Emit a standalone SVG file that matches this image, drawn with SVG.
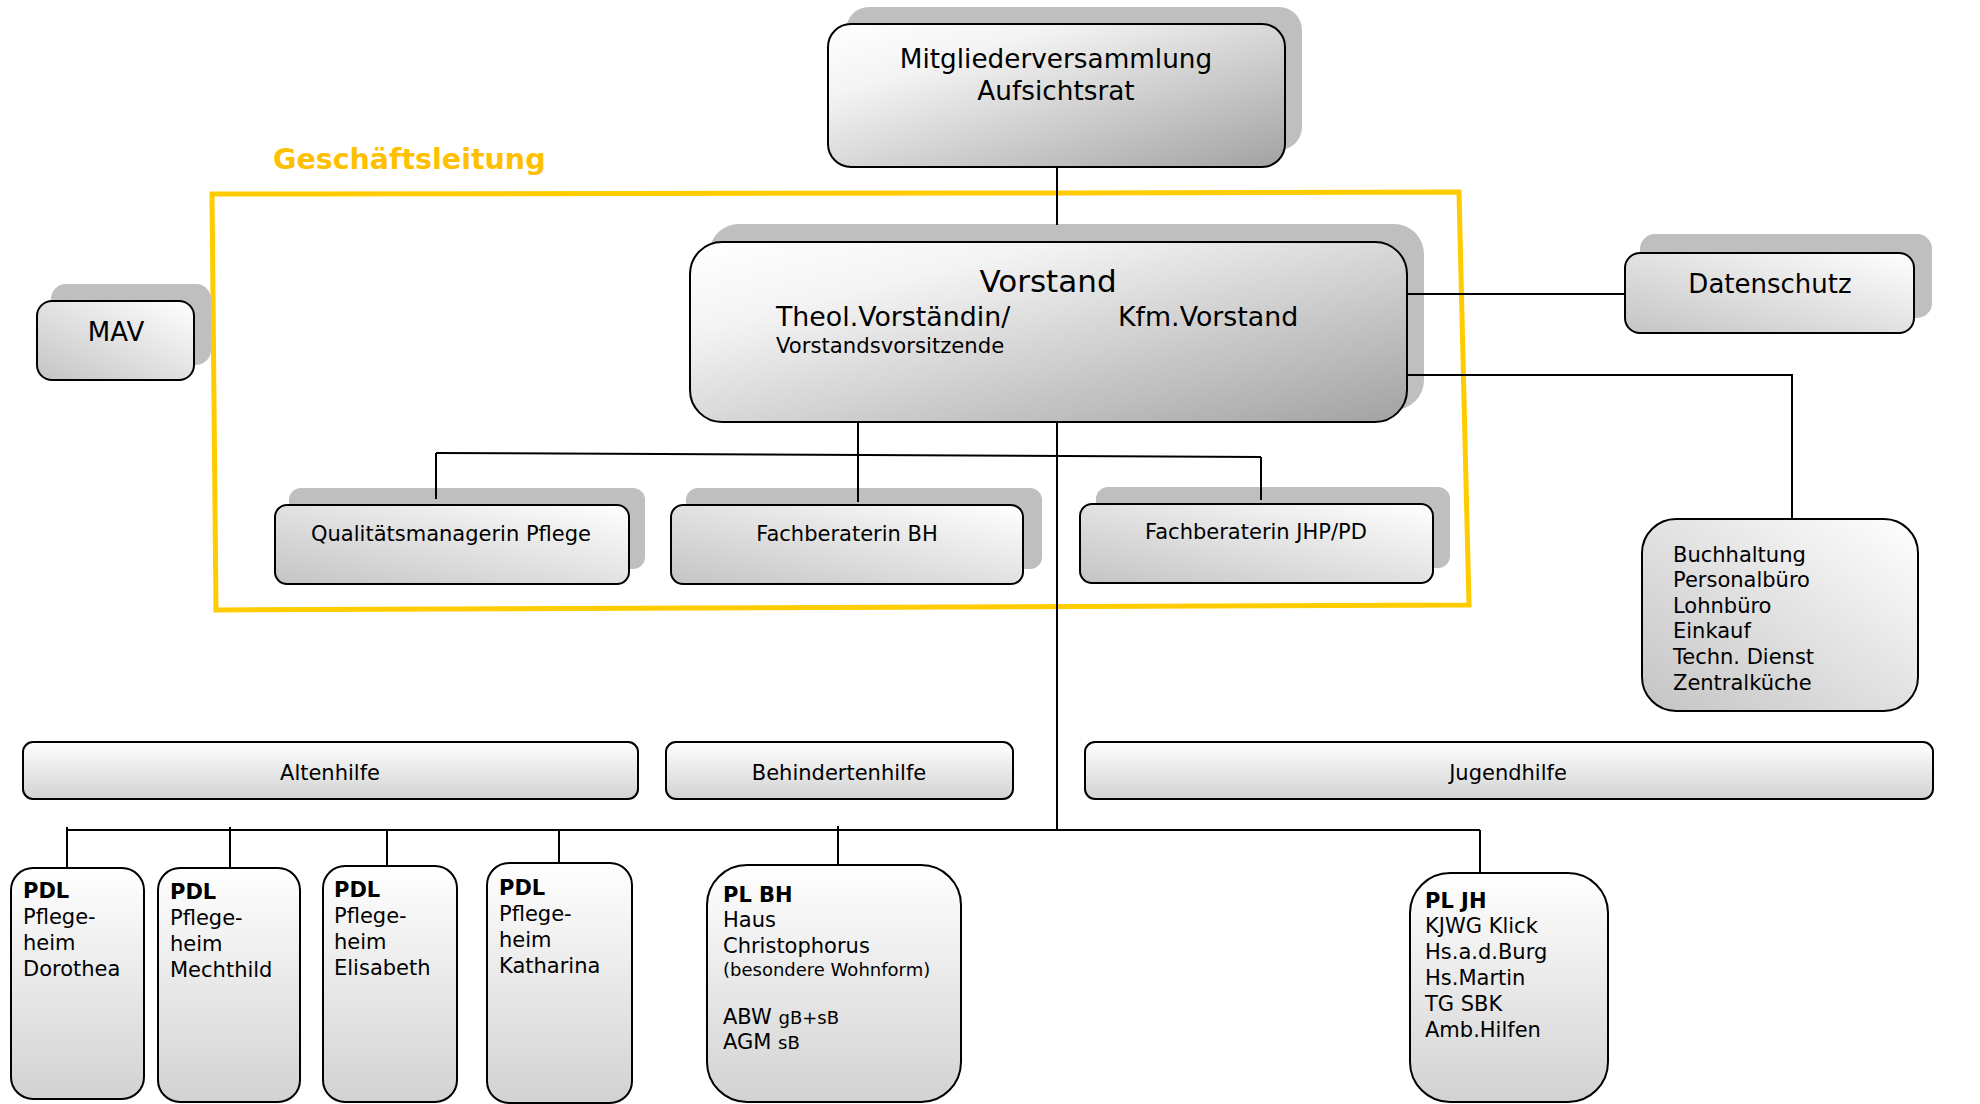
<svg xmlns="http://www.w3.org/2000/svg" width="1980" height="1104" viewBox="0 0 1980 1104">
<defs>
<linearGradient id="gDark" x1="0" y1="0" x2="1" y2="1"><stop offset="0" stop-color="#ffffff"/><stop offset="0.25" stop-color="#f4f4f4"/><stop offset="1" stop-color="#a2a2a2"/></linearGradient>
<linearGradient id="gLight" x1="1" y1="0" x2="0" y2="1"><stop offset="0" stop-color="#ffffff"/><stop offset="1" stop-color="#c4c4c4"/></linearGradient>
<linearGradient id="gVert" x1="0" y1="0" x2="0" y2="1"><stop offset="0" stop-color="#ffffff"/><stop offset="1" stop-color="#d2d2d2"/></linearGradient>
<style>
text{font-family:"DejaVu Sans",Verdana,"Liberation Sans",sans-serif;fill:#000}
.box{stroke:#000;stroke-width:2}
.dark{fill:url(#gDark)}
.light{fill:url(#gLight)}
.vert{fill:url(#gVert)}
.sh{fill:#bfbfbf}
.c{text-anchor:middle}
.b{font-weight:bold}
.f21{font-size:21px}
.f26{font-size:26px}
.f18{font-size:18px}
.ln{stroke:#000;stroke-width:2;fill:none}
</style>
</defs>
<rect width="1980" height="1104" fill="#fff"/>

<!-- Geschäftsleitung frame -->
<g id="geschaeftsleitung">
<polygon points="212,194 1057,193 1459,192 1469,605 216,610" fill="none" stroke="#FFCC00" stroke-width="5"/>
<text x="273" y="169" style="font-size:28.5px;font-weight:bold;fill:#FFC000">Geschäftsleitung</text>
</g>

<g id="mitgliederversammlung">
<rect class="sh" x="846" y="7" width="456" height="143" rx="23"/>
<rect class="box dark" x="828" y="24" width="457" height="143" rx="23"/>
<text class="c" x="1056" y="68" style="font-size:26.3px">Mitgliederversammlung</text>
<text class="c" x="1056" y="100" style="font-size:26.3px">Aufsichtsrat</text>
</g>

<g id="vorstand">
<rect class="sh" x="709" y="224" width="715" height="186" rx="30"/>
<rect class="box dark" x="690" y="242" width="717" height="180" rx="32"/>
<text class="c" x="1048" y="292" style="font-size:31px">Vorstand</text>
<text x="776" y="326" style="font-size:26.8px">Theol.Vorständin/</text>
<text x="1118" y="326" style="font-size:26.8px">Kfm.Vorstand</text>
<text x="776" y="353" style="font-size:21.2px">Vorstandsvorsitzende</text>
</g>

<g id="mav">
<rect class="sh" x="51" y="284" width="160" height="81" rx="15"/>
<rect class="box light" x="37" y="301" width="157" height="79" rx="15"/>
<text class="c f26" x="116" y="341">MAV</text>
</g>

<g id="datenschutz">
<rect class="sh" x="1640" y="234" width="292" height="84" rx="15"/>
<rect class="box light" x="1625" y="253" width="289" height="80" rx="15"/>
<text class="c f26" x="1770" y="293">Datenschutz</text>
</g>

<g id="verwaltung">
<rect class="box light" x="1642" y="519" width="276" height="192" rx="34"/>
<text class="f21" x="1673" y="562">Buchhaltung</text>
<text class="f21" x="1673" y="587">Personalbüro</text>
<text class="f21" x="1673" y="613">Lohnbüro</text>
<text class="f21" x="1673" y="638">Einkauf</text>
<text class="f21" x="1673" y="664">Techn. Dienst</text>
<text class="f21" x="1673" y="690">Zentralküche</text>
</g>

<g id="qm-pflege">
<rect class="sh" x="289" y="488" width="356" height="81" rx="12"/>
<rect class="box light" x="275" y="505" width="354" height="79" rx="12"/>
<text class="c f21" x="451" y="541">Qualitätsmanagerin Pflege</text>
</g>

<g id="fb-bh">
<rect class="sh" x="686" y="488" width="356" height="81" rx="12"/>
<rect class="box light" x="671" y="505" width="352" height="79" rx="12"/>
<text class="c f21" x="847" y="541">Fachberaterin BH</text>
</g>

<g id="fb-jhp">
<rect class="sh" x="1096" y="487" width="354" height="81" rx="12"/>
<rect class="box light" x="1080" y="504" width="353" height="79" rx="12"/>
<text class="c f21" x="1256" y="539">Fachberaterin JHP/PD</text>
</g>

<g id="altenhilfe">
<rect class="box vert" x="23" y="742" width="615" height="57" rx="10"/>
<text class="c f21" x="330" y="780">Altenhilfe</text>
</g>
<g id="behindertenhilfe">
<rect class="box vert" x="666" y="742" width="347" height="57" rx="10"/>
<text class="c f21" x="839" y="780">Behindertenhilfe</text>
</g>
<g id="jugendhilfe">
<rect class="box vert" x="1085" y="742" width="848" height="57" rx="10"/>
<text class="c f21" x="1508" y="780">Jugendhilfe</text>
</g>

<g id="pdl-dorothea">
<rect class="box vert" x="11" y="868" width="133" height="231" rx="22"/>
<text class="f21 b" x="23" y="898">PDL</text>
<text class="f21" x="23" y="924">Pflege-</text>
<text class="f21" x="23" y="950">heim</text>
<text class="f21" x="23" y="976">Dorothea</text>
</g>
<g id="pdl-mechthild">
<rect class="box vert" x="158" y="868" width="142" height="234" rx="22"/>
<text class="f21 b" x="170" y="899">PDL</text>
<text class="f21" x="170" y="925">Pflege-</text>
<text class="f21" x="170" y="951">heim</text>
<text class="f21" x="170" y="977">Mechthild</text>
</g>
<g id="pdl-elisabeth">
<rect class="box vert" x="323" y="866" width="134" height="236" rx="22"/>
<text class="f21 b" x="334" y="897">PDL</text>
<text class="f21" x="334" y="923">Pflege-</text>
<text class="f21" x="334" y="949">heim</text>
<text class="f21" x="334" y="975">Elisabeth</text>
</g>
<g id="pdl-katharina">
<rect class="box vert" x="487" y="863" width="145" height="240" rx="22"/>
<text class="f21 b" x="499" y="895">PDL</text>
<text class="f21" x="499" y="921">Pflege-</text>
<text class="f21" x="499" y="947">heim</text>
<text class="f21" x="499" y="973">Katharina</text>
</g>

<g id="pl-bh">
<rect class="box vert" x="707" y="865" width="254" height="237" rx="40"/>
<text class="f21 b" x="723" y="902">PL BH</text>
<text class="f21" x="723" y="927">Haus</text>
<text class="f21" x="723" y="953">Christophorus</text>
<text class="f18" x="723" y="976">(besondere Wohnform)</text>
<text class="f21" x="723" y="1024">ABW <tspan class="f18">gB+sB</tspan></text>
<text class="f21" x="723" y="1049">AGM <tspan class="f18">sB</tspan></text>
</g>

<g id="pl-jh">
<rect class="box vert" x="1410" y="873" width="198" height="229" rx="40"/>
<text class="f21 b" x="1425" y="908">PL JH</text>
<text class="f21" x="1425" y="933">KJWG Klick</text>
<text class="f21" x="1425" y="959">Hs.a.d.Burg</text>
<text class="f21" x="1425" y="985">Hs.Martin</text>
<text class="f21" x="1425" y="1011">TG SBK</text>
<text class="f21" x="1425" y="1037">Amb.Hilfen</text>
</g>

<g id="connectors">
<path class="ln" d="M1057,167 V225"/>
<path class="ln" d="M1407,294 H1625"/>
<path class="ln" d="M1407,375 H1792 V519"/>
<path class="ln" d="M436,453 L1261,457"/>
<path class="ln" d="M436,453 V499"/>
<path class="ln" d="M858,422 V502"/>
<path class="ln" d="M1261,457 V500"/>
<path class="ln" d="M1057,422 V830"/>
<path class="ln" d="M67,830 H1480"/>
<path class="ln" d="M67,827 V867"/>
<path class="ln" d="M230,827 V867"/>
<path class="ln" d="M387,830 V865"/>
<path class="ln" d="M559,830 V862"/>
<path class="ln" d="M838,826 V864"/>
<path class="ln" d="M1480,830 V872"/>
</g>
</svg>
